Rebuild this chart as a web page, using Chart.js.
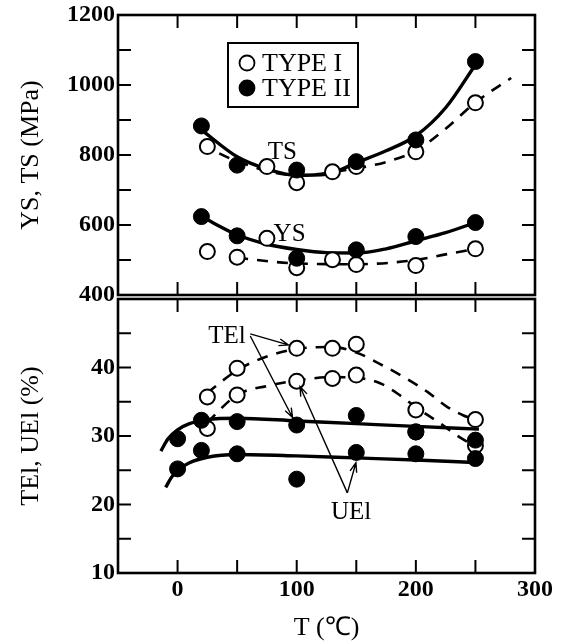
<!DOCTYPE html>
<html>
<head>
<meta charset="utf-8">
<title>YS, TS and elongation vs temperature</title>
<script src="https://cdn.jsdelivr.net/npm/chart.js@4.4.0/dist/chart.umd.min.js"></script>
<style>
  html, body { margin: 0; padding: 0; background: #fff; }
  #wrap { position: relative; width: 564px; height: 642px; }
  #wrap canvas { position: absolute; left: 0; top: 0; }
</style>
</head>
<body>
<div id="wrap">
  <canvas id="topChart" width="564" height="642"></canvas>
  <canvas id="bottomChart" width="564" height="642"></canvas>
</div>
<script>
// Test temperatures (°C)
const tempII = [20, 50, 100, 150, 200, 250];
const tempI = [25, 50, 75, 100, 130, 150, 200, 250];
const tempElII = [0, 20, 50, 100, 150, 200, 250];
const tempElI = [25, 50, 100, 130, 150, 200, 250];

// Top panel, strength (MPa)
const tsTypeII = [883, 771, 757, 781, 843, 1067];
const ysTypeII = [624, 569, 505, 529, 567, 607];
const tsTypeI = [824, null, 767, 721, 752, 767, 809, 949];
const ysTypeI = [524, 508, 562, 478, 501, 487, 484, 532];

// Bottom panel, elongation (%)
const telTypeII = [29.6, 32.3, 32.1, 31.6, 33.0, 30.6, 29.4];
const uelTypeII = [25.2, 27.9, 27.4, 23.7, 27.6, 27.4, 26.7];
const telTypeI = [35.7, 39.9, 42.8, 42.8, 43.4, 33.8, 32.4];
const uelTypeI = [31.1, 36.0, 38.0, 38.4, 38.9, 30.6, 28.6];

// Hand-drawn trend curves
const tsCurveIIT = [20, 50, 75, 100, 125, 150, 175, 200, 225, 250];
const tsCurveII = [872, 795, 760, 742, 745, 778, 812, 855, 935, 1058];
const tsCurveIT = [20, 50, 100, 150, 175, 200, 225, 250, 280];
const tsCurveI = [830, 782, 742, 762, 780, 812, 875, 950, 1020];
const ysCurveIIT = [20, 50, 75, 100, 125, 150, 175, 200, 225, 250];
const ysCurveII = [624, 572, 545, 530, 521, 520, 532, 555, 578, 607];
const ysCurveIT = [50, 100, 150, 200, 225, 250];
const ysCurveI = [506, 490, 488, 500, 516, 532];

const telCurveIIT = [-14, -8, 0, 10, 25, 50, 100, 150, 200, 253];
const telCurveII = [27.8, 29.6, 30.9, 31.8, 32.4, 32.6, 32.2, 31.8, 31.4, 31.0];
const uelCurveIIT = [-10, -5, 0, 10, 25, 50, 100, 150, 200, 253];
const uelCurveII = [22.5, 24.0, 25.0, 26.1, 26.9, 27.3, 27.1, 26.8, 26.5, 26.1];
const telCurveIT = [25, 50, 75, 100, 130, 150, 170, 190, 210, 225, 240, 250];
const telCurveI = [36.3, 39.6, 41.6, 42.7, 43.0, 42.2, 40.5, 38.6, 36.4, 34.4, 33.0, 32.4];
const uelCurveIT = [25, 50, 75, 100, 130, 150, 170, 187, 200, 220, 237, 250];
const uelCurveI = [32.0, 36.0, 37.3, 38.1, 38.6, 38.5, 37.7, 35.9, 34.2, 31.9, 29.8, 28.5];

// Axis ranges and tick labels
const tempRange = [-50, 300];
const tempLabels = [0, 100, 200, 300];
const strengthRange = [400, 1200];
const strengthLabels = [400, 600, 800, 1000, 1200];
const elongRange = [10, 50];
const elongLabels = [10, 20, 30, 40];

const SERIF = '"Liberation Serif", "Times New Roman", serif';
Chart.defaults.font.family = SERIF;
Chart.defaults.color = '#000';

function toPoints(xs, ys) {
    return xs.map((x, i) => ({ x: x, y: ys[i] }));
}

function filledPoints(label, xs, ys) {
    return {
        label: label, data: toPoints(xs, ys), showLine: false,
        pointRadius: 8, pointBackgroundColor: '#000', pointBorderColor: '#000', pointBorderWidth: 1
    };
}

function openPoints(label, xs, ys) {
    return {
        label: label, data: toPoints(xs, ys), showLine: false,
        pointRadius: 7.5, pointBackgroundColor: '#fff', pointBorderColor: '#000', pointBorderWidth: 2
    };
}

function curve(label, xs, ys, dashed) {
    return {
        label: label, data: toPoints(xs, ys), showLine: true, pointRadius: 0,
        borderColor: '#000', borderWidth: dashed ? 2.6 : 3.4,
        borderDash: dashed ? [11, 9] : [], cubicInterpolationMode: 'monotone', fill: false
    };
}

// Box round the plot area with short inward tick marks on all four sides
const frameTicks = {
    id: 'frameTicks',
    afterDatasetsDraw(chart) {
        const { ctx, chartArea: a, scales: { x, y } } = chart;
        const len = 13;
        ctx.save();
        ctx.strokeStyle = '#000';
        ctx.lineWidth = 2;
        ctx.beginPath();
        x.ticks.forEach(t => {
            const px = x.getPixelForValue(t.value);
            if (px <= a.left + 1 || px >= a.right - 1) return;
            ctx.moveTo(px, a.bottom); ctx.lineTo(px, a.bottom - len);
            ctx.moveTo(px, a.top); ctx.lineTo(px, a.top + len);
        });
        y.ticks.forEach(t => {
            const py = y.getPixelForValue(t.value);
            if (py <= a.top + 1 || py >= a.bottom - 1) return;
            ctx.moveTo(a.left, py); ctx.lineTo(a.left + len, py);
            ctx.moveTo(a.right, py); ctx.lineTo(a.right - len, py);
        });
        ctx.stroke();
        ctx.lineWidth = 2.6;
        ctx.strokeRect(a.left, a.top, a.right - a.left, a.bottom - a.top);
        ctx.restore();
    }
};

function drawArrow(ctx, x1, y1, x2, y2) {
    const ang = Math.atan2(y2 - y1, x2 - x1);
    const head = 10;
    ctx.beginPath();
    ctx.moveTo(x1, y1);
    ctx.lineTo(x2, y2);
    ctx.moveTo(x2 - head * Math.cos(ang - 0.35), y2 - head * Math.sin(ang - 0.35));
    ctx.lineTo(x2, y2);
    ctx.lineTo(x2 - head * Math.cos(ang + 0.35), y2 - head * Math.sin(ang + 0.35));
    ctx.stroke();
}

// Curve labels, arrows and the boxed key
const annotations = {
    id: 'annotations',
    afterDatasetsDraw(chart, args, opts) {
        const { ctx, scales: { x, y } } = chart;
        ctx.save();
        ctx.fillStyle = '#000';
        ctx.strokeStyle = '#000';
        ctx.font = '25px ' + SERIF;
        ctx.textAlign = 'center';
        ctx.textBaseline = 'middle';
        (opts.labels || []).forEach(l => {
            ctx.fillText(l.text, x.getPixelForValue(l.x), y.getPixelForValue(l.y));
        });
        ctx.lineWidth = 1.4;
        (opts.arrows || []).forEach(a => {
            drawArrow(ctx, x.getPixelForValue(a.from[0]), y.getPixelForValue(a.from[1]),
                x.getPixelForValue(a.to[0]), y.getPixelForValue(a.to[1]));
        });
        const key = opts.key;
        if (key) {
            ctx.lineWidth = 2;
            ctx.fillStyle = '#fff';
            ctx.fillRect(key.left, key.top, key.width, key.height);
            ctx.strokeRect(key.left, key.top, key.width, key.height);
            ctx.textAlign = 'left';
            ctx.font = '26px ' + SERIF;
            key.items.forEach((item, i) => {
                const cy = key.top + 20 + i * 25;
                const cx = key.left + 19;
                ctx.beginPath();
                ctx.arc(cx, cy, 7.5, 0, Math.PI * 2);
                ctx.fillStyle = item.filled ? '#000' : '#fff';
                ctx.fill();
                ctx.lineWidth = 1.8;
                ctx.stroke();
                ctx.fillStyle = '#000';
                ctx.fillText(item.text, key.left + 34, cy + 1);
            });
        }
        ctx.restore();
    }
};

const tickFont = { family: SERIF, size: 24, weight: 'bold', lineHeight: 1 };
const titleFont = { family: SERIF, size: 26, lineHeight: 1 };

function xScale(showLabels, height) {
    return {
        type: 'linear', min: tempRange[0], max: tempRange[1],
        grid: { display: false, drawTicks: false }, border: { display: false },
        ticks: {
            display: showLabels, stepSize: 50, autoSkip: false, maxRotation: 0, padding: 5,
            font: tickFont,
            callback: v => tempLabels.includes(v) ? String(v) : ''
        },
        title: {
            display: showLabels, text: 'T (℃)', font: titleFont,
            padding: { top: 0, bottom: 1 }
        },
        afterFit: s => { s.height = height; }
    };
}

function yScale(range, step, labels, title) {
    return {
        type: 'linear', min: range[0], max: range[1],
        grid: { display: false, drawTicks: false }, border: { display: false },
        ticks: {
            stepSize: step, autoSkip: false, padding: 3, font: tickFont,
            callback: v => labels.includes(v) ? String(v) : ''
        },
        title: { display: true, text: title, font: titleFont, padding: { top: 18, bottom: 0 } },
        afterFit: s => { s.width = 118; }
    };
}

const baseOptions = {
    responsive: false,
    animation: false,
    devicePixelRatio: 1,
    plugins: { legend: { display: false }, tooltip: { enabled: false } }
};

new Chart(document.getElementById('topChart'), {
    type: 'scatter',
    data: {
        datasets: [
            filledPoints('TS TYPE II', tempII, tsTypeII),
            filledPoints('YS TYPE II', tempII, ysTypeII),
            openPoints('TS TYPE I', tempI, tsTypeI),
            openPoints('YS TYPE I', tempI, ysTypeI),
            curve('TS TYPE II fit', tsCurveIIT, tsCurveII, false),
            curve('YS TYPE II fit', ysCurveIIT, ysCurveII, false),
            curve('TS TYPE I fit', tsCurveIT, tsCurveI, true),
            curve('YS TYPE I fit', ysCurveIT, ysCurveI, true)
        ]
    },
    options: Object.assign({}, baseOptions, {
        layout: { padding: { top: 15, right: 29, bottom: 0, left: 0 } },
        scales: {
            x: xScale(false, 347),
            y: yScale(strengthRange, 100, strengthLabels, 'YS, TS (MPa)')
        },
        plugins: Object.assign({}, baseOptions.plugins, {
            annotations: {
                labels: [
                    { text: 'TS', x: 88, y: 808 },
                    { text: 'YS', x: 94, y: 574 }
                ],
                key: {
                    left: 228, top: 43, width: 130, height: 64,
                    items: [
                        { text: 'TYPE I', filled: false },
                        { text: 'TYPE II', filled: true }
                    ]
                }
            }
        })
    }),
    plugins: [frameTicks, annotations]
});

new Chart(document.getElementById('bottomChart'), {
    type: 'scatter',
    data: {
        datasets: [
            filledPoints('TEl TYPE II', tempElII, telTypeII),
            filledPoints('UEl TYPE II', tempElII, uelTypeII),
            openPoints('TEl TYPE I', tempElI, telTypeI),
            openPoints('UEl TYPE I', tempElI, uelTypeI),
            curve('TEl TYPE II fit', telCurveIIT, telCurveII, false),
            curve('UEl TYPE II fit', uelCurveIIT, uelCurveII, false),
            curve('TEl TYPE I fit', telCurveIT, telCurveI, true),
            curve('UEl TYPE I fit', uelCurveIT, uelCurveI, true)
        ]
    },
    options: Object.assign({}, baseOptions, {
        layout: { padding: { top: 299, right: 29, bottom: 0, left: 0 } },
        scales: {
            x: xScale(true, 69),
            y: yScale(elongRange, 5, elongLabels, 'TEl, UEl (%)')
        },
        plugins: Object.assign({}, baseOptions.plugins, {
            annotations: {
                labels: [
                    { text: 'TEl', x: 41.5, y: 44.6 },
                    { text: 'UEl', x: 145.6, y: 18.9 }
                ],
                arrows: [
                    { from: [61, 44.9], to: [93, 43.3] },
                    { from: [61, 44.6], to: [96.5, 32.7] },
                    { from: [142.5, 21.7], to: [102.8, 37.2] },
                    { from: [142.5, 21.7], to: [149.7, 26.1] }
                ]
            }
        })
    }),
    plugins: [frameTicks, annotations]
});
</script>
</body>
</html>
